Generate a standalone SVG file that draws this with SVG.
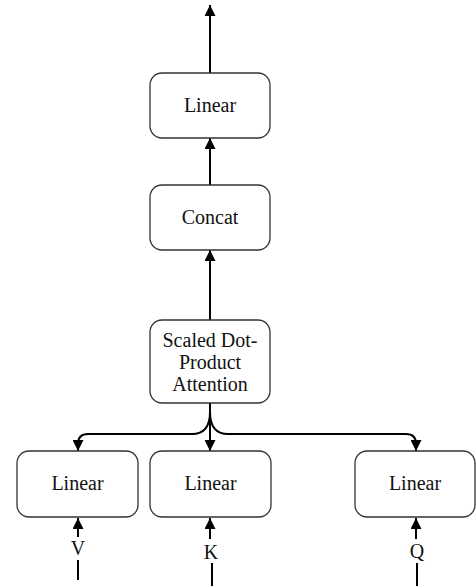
<svg xmlns="http://www.w3.org/2000/svg" width="476" height="586" viewBox="0 0 476 586">
<defs>
<marker id="ah" markerWidth="11" markerHeight="11" refX="11" refY="5.5" orient="auto" markerUnits="userSpaceOnUse" viewBox="0 0 11 11">
<path d="M0,0 L11,5.5 L0,11 Z" fill="#000"/>
</marker>
<style>
.box{fill:#fff;stroke:#333;stroke-width:1.3}
.t{font-family:"Liberation Serif","Times New Roman",serif;font-size:20px;fill:#111;text-anchor:middle}
.c{fill:none;stroke:#000;stroke-width:2}
</style>
</defs>
<g id="connectors">
<path class="c" d="M210,73 V5" marker-end="url(#ah)"/>
<path class="c" d="M210,185 V138" marker-end="url(#ah)"/>
<path class="c" d="M210,320 V250" marker-end="url(#ah)"/>
<path class="c" d="M210,403 V451" marker-end="url(#ah)"/>
<path class="c" d="M210,412 Q210,434 192,434 H88 Q78,434 78,444 V451" marker-end="url(#ah)"/>
<path class="c" d="M210,412 Q210,434 228,434 H406 Q416,434 416,444 V451" marker-end="url(#ah)"/>
<path class="c" d="M78,537 V518" marker-end="url(#ah)"/>
<path class="c" d="M210,539 V518" marker-end="url(#ah)"/>
<path class="c" d="M416,539 V518" marker-end="url(#ah)"/>
<path class="c" d="M78,560 V580"/>
<path class="c" d="M212,563 V586"/>
<path class="c" d="M417,563 V586"/>
</g>
<g id="linear-out">
<rect class="box" x="150" y="73" width="120" height="65" rx="12"/>
<text class="t" x="210" y="112">Linear</text>
</g>
<g id="concat">
<rect class="box" x="150" y="185" width="120" height="65" rx="12"/>
<text class="t" x="210" y="224">Concat</text>
</g>
<g id="attention">
<rect class="box" x="150" y="320" width="120" height="83" rx="12"/>
<text class="t" x="210" y="347">Scaled Dot-</text>
<text class="t" x="210" y="369">Product</text>
<text class="t" x="210" y="391">Attention</text>
</g>
<g id="linear-v">
<rect class="box" x="17" y="451" width="121" height="66" rx="12"/>
<text class="t" x="77.5" y="490">Linear</text>
</g>
<g id="linear-k">
<rect class="box" x="150" y="451" width="121" height="66" rx="12"/>
<text class="t" x="210.5" y="490">Linear</text>
</g>
<g id="linear-q">
<rect class="box" x="355" y="451" width="120" height="66" rx="12"/>
<text class="t" x="415" y="490">Linear</text>
</g>
<g id="labels">
<text class="t" x="78" y="555">V</text>
<text class="t" x="211" y="559">K</text>
<text class="t" x="417" y="558">Q</text>
</g>
</svg>
